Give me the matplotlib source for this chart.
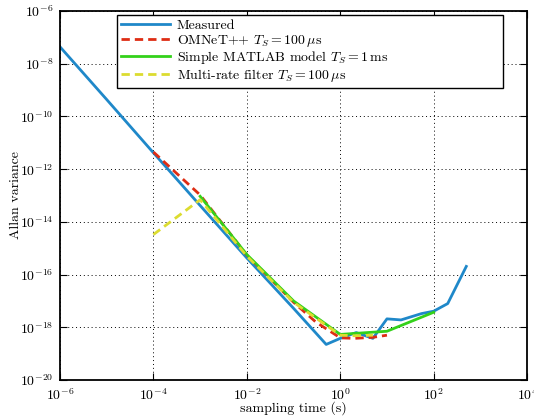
import numpy as np
import matplotlib
matplotlib.use("Agg")
import matplotlib.pyplot as plt
from matplotlib.ticker import LogLocator, NullLocator

plt.rcParams['font.family'] = ['cmr10', 'DejaVu Serif']
plt.rcParams['mathtext.fontset'] = 'cm'
plt.rcParams['axes.formatter.use_mathtext'] = True

# Allan variance data (tau in seconds, log10 of variance)
tau_meas = [1e-6, 1e-5, 1e-4, 1e-3, 1e-2, 1e-1, 0.5, 1, 2.2, 5, 10, 20, 55, 100, 200, 500]
log_meas = [-7.36, -9.36, -11.38, -13.38, -15.37, -17.28, -18.65, -18.42, -18.2, -18.42,
            -17.68, -17.72, -17.48, -17.39, -17.1, -15.69]

tau_omnet = [1e-4, 1e-3, 1e-2, 1e-1, 0.3, 1, 2, 5, 10]
log_omnet = [-11.35, -12.98, -15.26, -17.05, -17.8, -18.4, -18.42, -18.38, -18.3]

tau_matlab = [1e-3, 1e-2, 1e-1, 1, 10, 100]
log_matlab = [-13.03, -15.24, -17.0, -18.27, -18.15, -17.43]

tau_mrf = [1e-4, 1e-3, 1e-2, 1e-1, 1, 2, 5]
log_mrf = [-14.48, -13.16, -15.3, -17.05, -18.3, -18.32, -18.3]

fig = plt.figure(figsize=(5.34, 4.17), dpi=100)
ax = fig.add_axes([0.1124, 0.0887, 0.8746, 0.8849])

lw = 2.0
ax.plot(tau_meas, 10.0 ** np.array(log_meas), color='#1f88c9', lw=lw, label='Measured')
ax.plot(tau_omnet, 10.0 ** np.array(log_omnet), color='#de2d14', lw=lw, ls=(0, (3, 1.8)),
        label=r'OMNeT++ $T_S = 100\,\mathrm{\mu s}$')
ax.plot(tau_matlab, 10.0 ** np.array(log_matlab), color='#33d11a', lw=lw,
        label=r'Simple MATLAB model $T_S = 1\,\mathrm{ms}$')
ax.plot(tau_mrf, 10.0 ** np.array(log_mrf), color='#dcdc30', lw=lw, ls=(0, (3, 1.8)),
        label=r'Multi-rate filter $T_S = 100\,\mathrm{\mu s}$')

ax.set_xscale('log')
ax.set_yscale('log')
ax.set_xlim(1e-6, 1e4)
ax.set_ylim(1e-20, 1e-6)
ax.xaxis.set_major_locator(LogLocator(base=100, numticks=10))
ax.yaxis.set_major_locator(LogLocator(base=100, numticks=10))
ax.xaxis.set_minor_locator(NullLocator())
ax.yaxis.set_minor_locator(NullLocator())
ax.tick_params(direction='in', length=5, width=0.8, top=True, right=True, labelsize=10, pad=5)
ax.grid(True, which='major', ls=(0, (1, 3)), color='black', lw=0.7)
for s in ax.spines.values():
    s.set_linewidth(1.3)

ax.set_xlabel('sampling time (s)', fontsize=10, labelpad=-1)
ax.set_ylabel('Allan variance', fontsize=10, labelpad=-2)

leg = ax.legend(loc='upper left', bbox_to_anchor=(0.122, 0.989, 0.8266, 0.0),
                mode='expand', borderaxespad=0,
                fontsize=10, handlelength=3.5, handletextpad=0.5, fancybox=False,
                framealpha=1, edgecolor='black', labelspacing=0.05, borderpad=0.3)
leg.get_frame().set_linewidth(1.0)

fig.savefig('out.png', dpi=100)
